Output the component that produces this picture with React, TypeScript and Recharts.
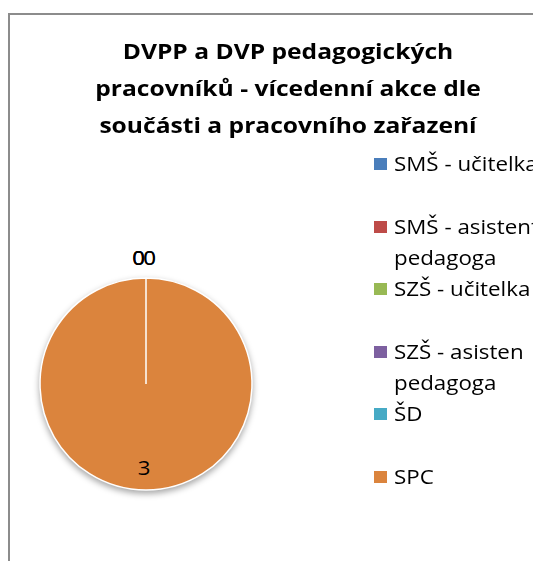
import { Cell, Legend, Pie, PieChart } from 'recharts';

const categories = ['SMŠ - učitelka', 'SMŠ - asistent pedagoga', 'SZŠ - učitelka', 'SZŠ - asisten pedagoga', 'ŠD', 'SPC'];
const values = [0, 0, 0, 0, 0, 3];
const colors = ['#4a7ebb', '#be4b48', '#98b954', '#7d60a0', '#46aac5', '#db843d'];

const data = categories.map((name, i) => ({ name, value: values[i] }));

const FONT = '"Open Sans", Lato, sans-serif';
const RAD = Math.PI / 180;
// the original text is a bit wider than Open Sans, so stretch it sideways
const STRETCH = 1.14;

type LabelProps = { cx: number; cy: number; midAngle: number; outerRadius: number; value: number; index: number };

function SliceLabel({ cx, cy, midAngle, outerRadius, value, index }: LabelProps) {
  // zero slices pile up outside at the top, the real slice gets its number inside
  const r = value === 0 ? outerRadius + 20 : outerRadius * 0.79;
  const shift = value === 0 ? (index <= 2 ? -7.5 : 3.5) : -2;
  const x = cx + r * Math.cos(-midAngle * RAD) + shift;
  const y = cy + r * Math.sin(-midAngle * RAD);
  return (
    <text
      transform={`translate(${x},${y}) scale(${STRETCH},1)`}
      textAnchor="middle"
      dominantBaseline="central"
      fill="#000"
      fontSize={19.5}
      fontFamily={FONT}
    >
      {value}
    </text>
  );
}

function ChartLegend() {
  return (
    <div style={{ fontFamily: FONT, fontSize: 19.6, color: '#000' }}>
      {categories.map((name, i) => (
        <div key={name} style={{ height: 62.6, display: 'flex', alignItems: 'flex-start' }}>
          <span style={{ width: 13, height: 12, background: colors[i], marginTop: 10, marginRight: 7, flex: 'none' }} />
          <span style={{ width: 150, lineHeight: '31.5px', whiteSpace: 'normal', transform: `scaleX(${STRETCH})`, transformOrigin: 'left top' }}>{name}</span>
        </div>
      ))}
    </div>
  );
}

export default function App() {
  return (
    <div style={{ position: 'relative', width: 600, height: 600, overflow: 'hidden' }}>
      <style>{'html, body { overflow: hidden; } .recharts-pie-sector path { filter: drop-shadow(0px 3px 3px rgba(0,0,0,0.35)); }'}</style>
      <div style={{ position: 'absolute', left: 0, top: 5, width: 640, height: 620, border: '2px solid #8c8c8c', boxSizing: 'border-box', background: '#fff' }}>
        <div
          style={{
            position: 'absolute',
            left: 0,
            top: 18,
            width: 556,
            textAlign: 'center',
            fontFamily: FONT,
            fontWeight: 700,
            fontSize: 20.5,
            lineHeight: '37px',
            color: '#000',
            transform: 'scaleX(1.2)',
            transformOrigin: '278px 0',
          }}
        >
          DVPP a DVP pedagogických<br />pracovníků - vícedenní akce dle<br />součásti a pracovního zařazení
        </div>
        <PieChart width={636} height={616} margin={{ top: 0, right: 0, bottom: 0, left: 0 }}>
          <Pie
            data={data}
            dataKey="value"
            nameKey="name"
            cx={136}
            cy={369}
            outerRadius={106}
            startAngle={90}
            endAngle={-270}
            stroke="#ffffff"
            strokeWidth={1.5}
            label={SliceLabel}
            labelLine={false}
            isAnimationActive={false}
          >
            {data.map((d, i) => <Cell key={d.name} fill={colors[i]} />)}
          </Pie>
          <Legend
            layout="vertical"
            content={<ChartLegend />}
            wrapperStyle={{ left: 364, top: 133, width: 200 }}
          />
        </PieChart>
      </div>
    </div>
  );
}
